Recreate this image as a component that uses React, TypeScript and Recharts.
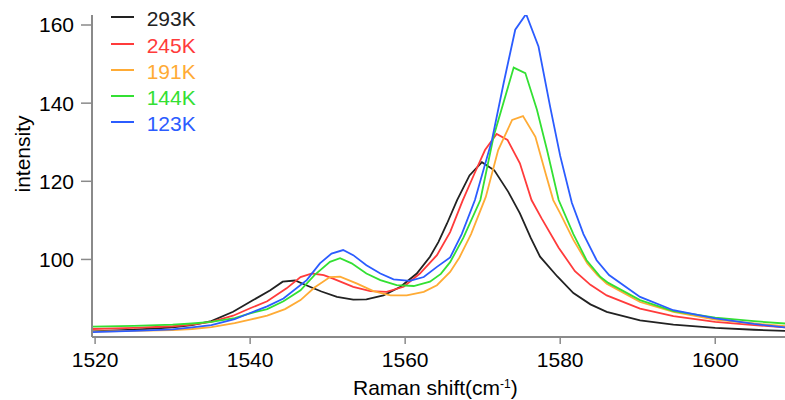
import React from 'react';
import { LineChart, Line, XAxis, YAxis, Label } from 'recharts';

// Raman shift (cm-1) / intensity for each temperature
const shift293 = [1519.6, 1525, 1530, 1532.5, 1535, 1537.8, 1540.4, 1542.6, 1544.2, 1545.8, 1547.7, 1549.2, 1551.2, 1553.3, 1555.0, 1557.2, 1559.4, 1561.5, 1563.2, 1564.3, 1565.4, 1566.7, 1568.3, 1569.9, 1571.5, 1573.3, 1574.8, 1576.2, 1577.4, 1579.6, 1581.7, 1583.9, 1586.0, 1590.3, 1594.6, 1600, 1605, 1609];
const int293 = [81.6, 82.0, 82.6, 83.2, 84.2, 86.6, 89.6, 92.1, 94.3, 94.6, 93.0, 91.8, 90.4, 89.7, 89.8, 90.8, 93.0, 96.4, 100.7, 104.5, 109.2, 115.2, 121.5, 124.9, 122.8, 117.3, 111.8, 105.5, 100.7, 95.7, 91.4, 88.5, 86.6, 84.4, 83.3, 82.5, 82.0, 81.7];

const shift245 = [1519.6, 1525, 1530, 1532.5, 1535, 1537.8, 1540, 1542.2, 1544.7, 1546.5, 1548.0, 1549.5, 1550.7, 1553.3, 1555.5, 1557.6, 1559.8, 1561.9, 1564.1, 1565.8, 1567.4, 1568.9, 1570.3, 1571.8, 1573.2, 1574.8, 1576.3, 1577.6, 1579.8, 1581.9, 1583.9, 1586.0, 1590.3, 1594.6, 1600, 1605, 1609];
const int245 = [82.2, 82.5, 82.9, 83.3, 84.0, 85.6, 87.5, 89.3, 92.6, 95.5, 96.4, 96.0, 95.1, 93.0, 91.9, 91.7, 93.0, 96.4, 101.1, 107.0, 115.0, 121.8, 128.0, 132.1, 130.6, 124.6, 115.2, 110.5, 103.0, 97.0, 93.5, 90.8, 87.4, 85.5, 84.0, 83.2, 82.6];

const shift191 = [1519.6, 1525, 1530, 1532.5, 1535, 1538, 1540, 1542.2, 1544.5, 1546.5, 1548.3, 1550.3, 1551.6, 1553.8, 1555.9, 1558.1, 1560.2, 1562.4, 1564.1, 1565.8, 1567.0, 1568.5, 1570.4, 1572.0, 1573.8, 1575.2, 1576.8, 1578.1, 1579.1, 1580.0, 1581.7, 1583.5, 1584.8, 1586.0, 1590.3, 1594.6, 1600, 1605, 1609];
const int191 = [81.5, 81.7, 81.9, 82.2, 82.7, 83.7, 84.6, 85.6, 87.3, 89.6, 92.8, 95.5, 95.6, 93.8, 91.9, 90.8, 90.8, 91.7, 93.4, 96.8, 100.5, 106.5, 116.0, 128.0, 135.7, 136.7, 131.4, 122.1, 115.2, 111.8, 105.0, 99.0, 96.0, 93.8, 89.1, 86.6, 84.6, 83.6, 82.9];

const shift144 = [1519.6, 1525, 1530, 1532.5, 1535, 1538, 1540, 1542.2, 1544.3, 1546.5, 1548.3, 1550.3, 1551.6, 1553.1, 1555.0, 1556.8, 1558.9, 1561.1, 1563.2, 1564.6, 1565.8, 1567.5, 1569.7, 1571.4, 1574.0, 1575.5, 1577.0, 1578.3, 1579.8, 1581.7, 1583.4, 1585.2, 1586.2, 1590.3, 1594.6, 1600, 1605, 1609];
const int144 = [82.8, 83.0, 83.3, 83.6, 84.0, 85.0, 86.2, 87.3, 89.3, 92.1, 96.0, 99.4, 100.3, 99.0, 96.4, 94.7, 93.4, 93.2, 94.3, 96.3, 99.3, 105.5, 115.2, 131.4, 149.1, 147.7, 138.3, 128.0, 115.2, 106.5, 99.8, 95.5, 94.0, 89.6, 86.8, 85.1, 84.2, 83.6];

const shift123 = [1519.6, 1525, 1530, 1532.5, 1535, 1538, 1540, 1542.2, 1544.3, 1547.3, 1549.0, 1550.5, 1552.0, 1553.3, 1555.0, 1556.8, 1558.5, 1560.6, 1562.4, 1564.1, 1565.8, 1567.3, 1569.0, 1571.2, 1572.7, 1574.2, 1575.6, 1577.2, 1578.7, 1580.0, 1581.5, 1583.0, 1584.7, 1586.3, 1590.3, 1594.6, 1600, 1605, 1609];
const int123 = [81.4, 81.7, 82.1, 82.6, 83.2, 84.7, 86.3, 88.0, 90.0, 94.7, 99.0, 101.5, 102.4, 101.1, 98.5, 96.4, 94.9, 94.5, 95.5, 98.1, 100.5, 106.5, 115.2, 130.6, 145.1, 158.8, 162.8, 154.5, 139.1, 126.5, 114.5, 106.5, 99.8, 96.0, 90.4, 87.0, 84.9, 83.5, 82.6];

const seriesNames = ['293K', '245K', '191K', '144K', '123K'];
const seriesColors = ['#222222', '#ff3b3b', '#ffab35', '#33e033', '#2b5cff'];
const xTicks = [1520, 1540, 1560, 1580, 1600];
const yTicks = [100, 120, 140, 160];

const toPoints = (xs: number[], ys: number[]) => xs.map((x, i) => ({ x, y: ys[i] }));

const series = [
  toPoints(shift293, int293),
  toPoints(shift245, int245),
  toPoints(shift191, int191),
  toPoints(shift144, int144),
  toPoints(shift123, int123),
];

const FONT = '"Liberation Sans", Arial, Helvetica, sans-serif';
const AXIS = '#8a8a8a';

export default function App() {
  return (
    <div style={{ position: 'absolute', left: 0, top: 0, width: 785, height: 400, background: '#fff', fontFamily: FONT }}>
      <LineChart width={785} height={400} margin={{ top: 15, right: 0, bottom: 0, left: 0 }}>
        <XAxis
          dataKey="x"
          type="number"
          domain={[1519.6, 1609]}
          allowDataOverflow
          ticks={xTicks}
          height={63}
          tickSize={7}
          tickMargin={8}
          axisLine={{ stroke: AXIS, strokeWidth: 2 }}
          tickLine={{ stroke: AXIS, strokeWidth: 1.5 }}
          tick={{ fill: '#000', fontSize: 21, fontFamily: FONT }}
        >
          <Label
            content={() => (
              <text x={353} y={395} fill="#000" fontSize={21} fontFamily={FONT} textAnchor="start">
                Raman shift(cm<tspan dy={-7} fontSize={12}>-1</tspan><tspan dy={7}>)</tspan>
              </text>
            )}
          />
        </XAxis>
        <YAxis
          type="number"
          domain={[80.15, 162.56]}
          allowDataOverflow
          ticks={yTicks}
          width={92}
          tickSize={11}
          tickMargin={7}
          axisLine={{ stroke: AXIS, strokeWidth: 2 }}
          tickLine={{ stroke: AXIS, strokeWidth: 1.5 }}
          tick={{ fill: '#000', fontSize: 21, fontFamily: FONT }}
        >
          <Label
            content={() => (
              <text transform="translate(29.5,154) rotate(-90)" fill="#000" fontSize={21} fontFamily={FONT} textAnchor="middle">
                intensity
              </text>
            )}
          />
        </YAxis>
        {series.map((pts, i) => (
          <Line
            key={seriesNames[i]}
            data={pts}
            dataKey="y"
            name={seriesNames[i]}
            type="linear"
            stroke={seriesColors[i]}
            strokeWidth={1.8}
            dot={false}
            isAnimationActive={false}
          />
        ))}
      </LineChart>
      <div style={{ position: 'absolute', left: 111, top: 6.3 }}>
        {seriesNames.map((n, i) => (
          <div key={n} style={{ position: 'absolute', left: 0, top: i * 26.3, width: 100, height: 26.3 }}>
            <div style={{ position: 'absolute', left: 0, top: 10, width: 23, height: 2, background: seriesColors[i] }} />
            <span style={{ position: 'absolute', left: 35.7, top: 0, lineHeight: '26.3px', fontSize: 21, color: seriesColors[i], whiteSpace: 'nowrap' }}>{n}</span>
          </div>
        ))}
      </div>
    </div>
  );
}
